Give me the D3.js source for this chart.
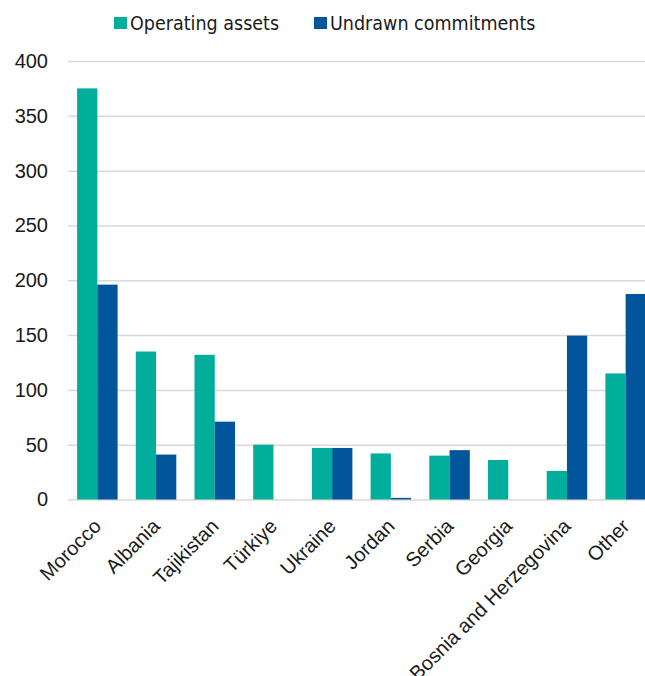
<!DOCTYPE html>
<html>
<head>
<meta charset="utf-8">
<script src="https://cdn.jsdelivr.net/npm/d3@7/dist/d3.min.js"></script>
<style>
  html, body { margin: 0; padding: 0; background: #fff; }
  svg { display: block; }
</style>
</head>
<body>
<div id="chart"></div>
<script>
// Exposure by country (EUR million)
const countries = ["Morocco", "Albania", "Tajikistan", "Türkiye", "Ukraine", "Jordan", "Serbia", "Georgia", "Bosnia and Herzegovina", "Other"];
const operatingAssets = [375, 135, 132, 50, 47, 42, 40, 36, 26, 115];
const undrawnCommitments = [196, 41, 71, 0, 47, 1.5, 45, 0, 149.5, 187.5];
const seriesNames = ["Operating assets", "Undrawn commitments"];
const seriesColors = ["#00AE9B", "#00559B"];
const yTicks = [0, 50, 100, 150, 200, 250, 300, 350, 400];

const W = 645, H = 676;
const plot = { left: 68, right: 655, top: 61, bottom: 499.5 };

const svg = d3.select("#chart").append("svg")
  .attr("width", W).attr("height", H);

const x = d3.scaleBand()
  .domain(countries)
  .range([plot.left, plot.right])
  .paddingInner(0.31)
  .paddingOuter(0.155);

const xs = d3.scaleBand()
  .domain(seriesNames)
  .range([0, x.bandwidth()]);

const y = d3.scaleLinear()
  .domain([0, 400])
  .range([plot.bottom, plot.top]);

// Horizontal gridlines and value labels
const yAxis = d3.axisLeft(y)
  .tickValues(yTicks)
  .tickSize(-(plot.right - plot.left))
  .tickPadding(20)
  .tickFormat(d3.format("d"));

const gy = svg.append("g")
  .attr("transform", `translate(${plot.left},0)`)
  .call(yAxis);
gy.select(".domain").remove();
gy.selectAll(".tick line")
  .attr("stroke", "#d9d9d9")
  .attr("stroke-width", 1.5);
gy.selectAll(".tick text")
  .attr("fill", "#1a1a1a")
  .style("font-family", "'Liberation Sans', Arial, sans-serif")
  .style("font-size", "20px");

// Bars
const data = countries.map((c, i) => ({
  country: c,
  values: [operatingAssets[i], undrawnCommitments[i]]
}));

const groups = svg.append("g").selectAll("g")
  .data(data)
  .join("g")
  .attr("transform", d => `translate(${x(d.country)},0)`);

groups.selectAll("rect")
  .data(d => d.values.map((v, j) => ({ series: seriesNames[j], value: v, color: seriesColors[j] })))
  .join("rect")
  .filter(d => d.value > 0)
  .attr("x", d => xs(d.series))
  .attr("width", xs.bandwidth())
  .attr("y", d => y(d.value))
  .attr("height", d => y(0) - y(d.value))
  .attr("fill", d => d.color);

// Category labels, rotated
const xAxis = d3.axisBottom(x).tickSize(0).tickPadding(0);
const gx = svg.append("g")
  .attr("transform", `translate(0,${plot.bottom})`)
  .call(xAxis);
gx.select(".domain").remove();
gx.selectAll(".tick text")
  .attr("fill", "#1a1a1a")
  .style("font-family", "'Liberation Sans', Arial, sans-serif")
  .style("font-size", "20px")
  .attr("text-anchor", "end")
  .attr("dy", null)
  .attr("y", 0)
  .attr("transform", "translate(5,28) rotate(-45)");

// Legend
const legendItems = [
  { name: seriesNames[0], color: seriesColors[0], x: 114 },
  { name: seriesNames[1], color: seriesColors[1], x: 314 }
];
const legend = svg.append("g");
const li = legend.selectAll("g")
  .data(legendItems)
  .join("g")
  .attr("transform", d => `translate(${d.x},17)`);
li.append("rect")
  .attr("width", 13).attr("height", 12)
  .attr("fill", d => d.color);
li.append("text")
  .attr("x", 16)
  .attr("y", 6)
  .attr("dy", "0.36em")
  .attr("fill", "#1a1a1a")
  .style("font-family", "'DejaVu Sans', sans-serif")
  .style("font-stretch", "condensed")
  .style("font-size", "19.5px")
  .text(d => d.name);
</script>
</body>
</html>
